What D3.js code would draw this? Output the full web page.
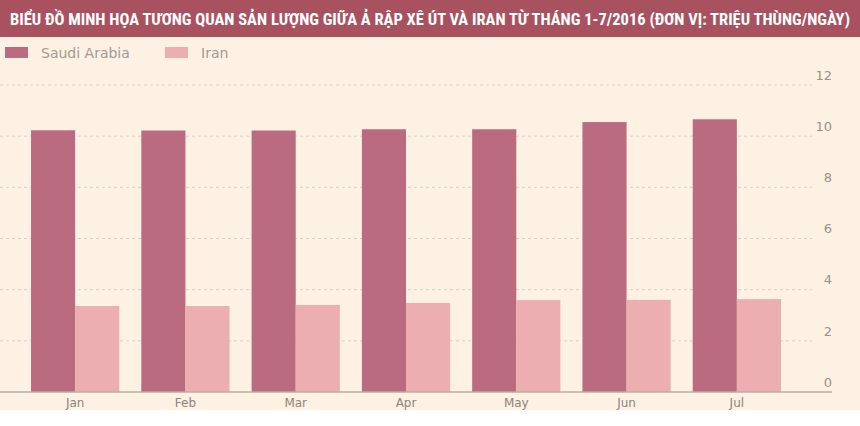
<!DOCTYPE html>
<html><head><meta charset="utf-8">
<script src="https://cdn.jsdelivr.net/npm/d3@7"></script>
<style>body{margin:0;background:#fff}</style></head>
<body><svg id="c" width="860" height="426"></svg>
<script>
const months=["Jan","Feb","Mar","Apr","May","Jun","Jul"];
const saudi=[10.23,10.22,10.22,10.27,10.27,10.55,10.66];
const iran=[3.36,3.36,3.4,3.48,3.59,3.6,3.63];
const yTicks=[0,2,4,6,8,10,12];
const seriesNames=["Saudi Arabia","Iran"];
const colors=["#bb6b80","#ecaeb0"];
const title="BIỂU ĐỒ MINH HỌA TƯƠNG QUAN SẢN LƯỢNG GIỮA Ả RẬP XÊ ÚT VÀ IRAN TỪ THÁNG 1-7/2016 (ĐƠN VỊ: TRIỆU THÙNG/NGÀY)";

const svg=d3.select("#c");
svg.append("rect").attr("width",860).attr("height",410).attr("fill","#fdf1e3");
svg.append("rect").attr("width",860).attr("height",37).attr("fill","#a8525f");
svg.append("text").attr("x",430).attr("y",25).attr("text-anchor","middle").attr("fill","#fff")
 .attr("font-family","Liberation Sans Narrow, Roboto Condensed, sans-serif").attr("font-weight","bold")
 .attr("font-size",16.5).text(title);

const y=d3.scaleLinear().domain([0,12]).range([392,85]);
const x0=d3.scaleBand().domain(months).range([20,792]).paddingInner(0.2).paddingOuter(0.1);
const x1=d3.scaleBand().domain([0,1]).range([0,x0.bandwidth()]);

svg.append("g").selectAll("line").data(yTicks.filter(d=>d>0)).join("line")
 .attr("x1",0).attr("x2",812).attr("y1",d=>y(d)).attr("y2",d=>y(d))
 .attr("stroke","#d9cfc4").attr("stroke-dasharray","3,3");

const g=svg.append("g").selectAll("g").data(months).join("g").attr("transform",m=>`translate(${x0(m)},0)`);
g.selectAll("rect").data((m,i)=>[saudi[i],iran[i]]).join("rect")
 .attr("x",(d,j)=>x1(j)).attr("width",x1.bandwidth()).attr("y",d=>y(d)).attr("height",d=>y(0)-y(d))
 .attr("fill",(d,j)=>colors[j]);

svg.append("line").attr("x1",0).attr("x2",832).attr("y1",y(0)).attr("y2",y(0)).attr("stroke","#b8aea4").attr("stroke-width",1.5);

const yAxis=d3.axisRight(y).tickValues(yTicks).tickSize(0).tickPadding(0);
const ya=svg.append("g").attr("transform","translate(832,-10)").call(yAxis);
ya.select(".domain").remove();
ya.selectAll("text").attr("text-anchor","end").attr("fill","#9a918a").attr("font-size",13).attr("font-family","DejaVu Sans, sans-serif");

const xAxis=d3.axisBottom(x0).tickSize(0).tickPadding(6);
const xa=svg.append("g").attr("transform",`translate(0,${y(0)})`).call(xAxis);
xa.select(".domain").remove();
xa.selectAll("text").attr("fill","#8c847d").attr("font-size",12).attr("font-family","DejaVu Sans, sans-serif");

const lg=svg.append("g").selectAll("g").data(seriesNames).join("g")
 .attr("transform",(d,i)=>`translate(${[5,165][i]},47)`);
lg.append("rect").attr("width",23).attr("height",11).attr("fill",(d,i)=>colors[i]);
lg.append("text").attr("x",36).attr("y",11).attr("fill","#a39a93").attr("font-size",14)
 .attr("font-family","DejaVu Sans, sans-serif").text(d=>d);
</script></body></html>
